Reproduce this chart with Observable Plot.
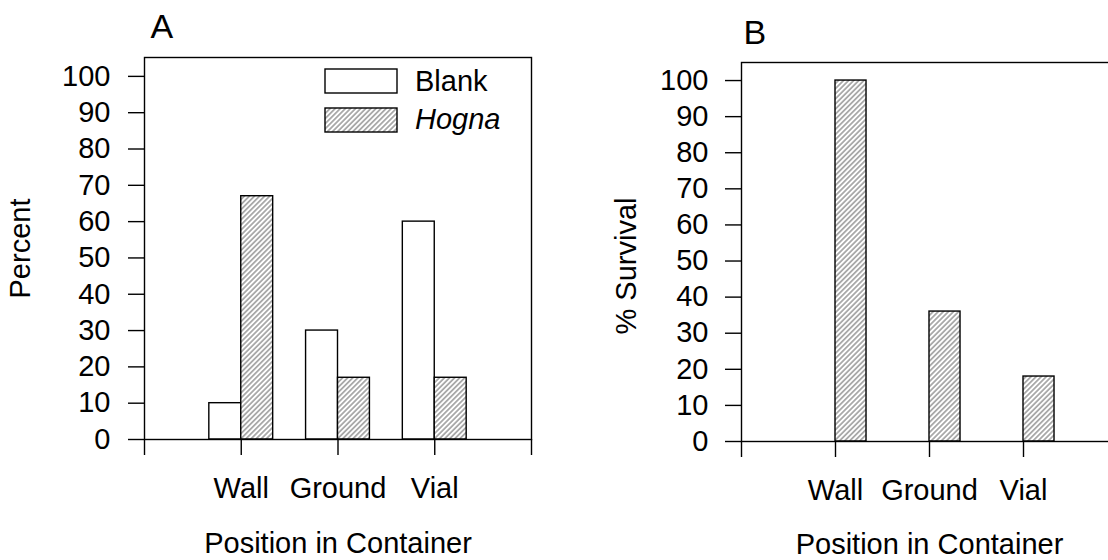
<!DOCTYPE html>
<html><head><meta charset="utf-8">
<script src="https://cdn.jsdelivr.net/npm/d3@7"></script>
<script src="https://cdn.jsdelivr.net/npm/@observablehq/plot@0.6"></script>
<style>
html,body{margin:0;padding:0;background:#fff;overflow:hidden}
#wrap{position:relative;width:1108px;height:560px;overflow:hidden;font-family:"Liberation Sans",Arial,sans-serif;color:#000;background:#fff}
#panelA{position:absolute;left:0;top:0;width:560px;height:560px}
#panelB{position:absolute;left:560px;top:0;width:560px;height:560px}
#wrap svg{max-width:none !important}
.sw{position:absolute;}
.lt{position:absolute;font-size:29px;line-height:1;white-space:nowrap}
</style>
</head><body>
<svg width="0" height="0" style="position:absolute">
  <defs>
    <pattern id="hatch" patternUnits="userSpaceOnUse" width="3.6" height="3.6" patternTransform="rotate(45)">
      <rect width="3.6" height="3.6" fill="white"/>
      <line x1="1.8" y1="-1" x2="1.8" y2="4.6" stroke="#222" stroke-width="0.7"/>
    </pattern>
  </defs>
</svg>
<div id="wrap">
  <div id="panelA"></div>
  <div id="panelB"></div>
  <svg class="sw" style="left:324px;top:68px" width="74" height="26"><rect x="1" y="1" width="72" height="24" fill="white" stroke="black" stroke-width="1.4"/></svg>
  <svg class="sw" style="left:324px;top:107px" width="74" height="26"><rect x="1" y="1" width="72" height="24" fill="url(#hatch)" stroke="black" stroke-width="1.4"/></svg>
  <div class="lt" id="lgBlank" style="left:415px;top:67px">Blank</div>
  <div class="lt" id="lgHogna" style="left:415px;top:105px;font-style:italic">Hogna</div>
</div>
<script>
// ---- data ----
const categories = ["Wall", "Ground", "Vial"];
const blankPct = [10, 30, 60];
const hognaPct = [67, 17, 17];
const survivalPct = [100, 36, 18];
const yTicks = [0, 10, 20, 30, 40, 50, 60, 70, 80, 90, 100];
const xTicks = [0, 1, 2, 3, 4];

const BW = 0.33; // bar width in category units
const font = "'Liberation Sans', Arial, sans-serif";
const tickLabel = i => categories[i - 1] ?? "";

const rowsA = categories.map((c, i) => ({pos: i + 1, blank: blankPct[i], hogna: hognaPct[i]}));
const rowsB = categories.map((c, i) => ({pos: i + 1, value: survivalPct[i]}));

const A = Plot.plot({
  width: 560, height: 560,
  marginLeft: 144, marginTop: 57, marginRight: 29, marginBottom: 121,
  style: {fontFamily: font, fontSize: "29px", background: "white", color: "black", maxWidth: "none"},
  x: {domain: [0, 4]},
  y: {domain: [0, 105.2]},
  marks: [
    Plot.rectY(rowsA, {x1: d => d.pos - BW, x2: "pos", y1: 0, y2: "blank", fill: "white", stroke: "black", strokeWidth: 1.4}),
    Plot.rectY(rowsA, {x1: "pos", x2: d => d.pos + BW, y1: 0, y2: "hogna", fill: "url(#hatch)", stroke: "black", strokeWidth: 1.4}),
    Plot.frame({stroke: "black", strokeWidth: 1.4}),
    Plot.axisY(yTicks, {tickSize: 16, tickPadding: 18, fontSize: 29, strokeWidth: 1.4,
      label: "Percent", labelAnchor: "center", labelArrow: "none", labelOffset: 135}),
    Plot.axisX(xTicks, {tickSize: 16, tickPadding: 22, fontSize: 29, strokeWidth: 1.4, tickFormat: tickLabel,
      label: "Position in Container", labelAnchor: "center", labelArrow: "none", labelOffset: 113}),
    Plot.text(["A"], {frameAnchor: "top-left", dx: 6, dy: -20, lineAnchor: "bottom", textAnchor: "start", fontSize: 34})
  ]
});
document.getElementById("panelA").append(A);

const B = Plot.plot({
  width: 560, height: 560,
  marginLeft: 181, marginTop: 62, marginRight: 3, marginBottom: 119,
  style: {fontFamily: font, fontSize: "29px", background: "white", color: "black", maxWidth: "none"},
  x: {domain: [0, 4]},
  y: {domain: [0, 105]},
  marks: [
    Plot.rectY(rowsB, {x1: "pos", x2: d => d.pos + BW, y1: 0, y2: "value", fill: "url(#hatch)", stroke: "black", strokeWidth: 1.4}),
    Plot.frame({stroke: "black", strokeWidth: 1.4}),
    Plot.axisY(yTicks, {tickSize: 16, tickPadding: 17, fontSize: 29, strokeWidth: 1.4, label: null}),
    Plot.text(["% Survival"], {frameAnchor: "left", rotate: -90, lineAnchor: "top", textAnchor: "middle", dx: -126, dy: 14, fontSize: 29}),
    Plot.axisX(xTicks, {tickSize: 16, tickPadding: 22, fontSize: 29, strokeWidth: 1.4, tickFormat: tickLabel,
      label: "Position in Container", labelAnchor: "center", labelArrow: "none", labelOffset: 112}),
    Plot.text(["B"], {frameAnchor: "top-left", dx: 2, dy: -19, lineAnchor: "bottom", textAnchor: "start", fontSize: 34})
  ]
});
document.getElementById("panelB").append(B);
</script>
</body></html>
